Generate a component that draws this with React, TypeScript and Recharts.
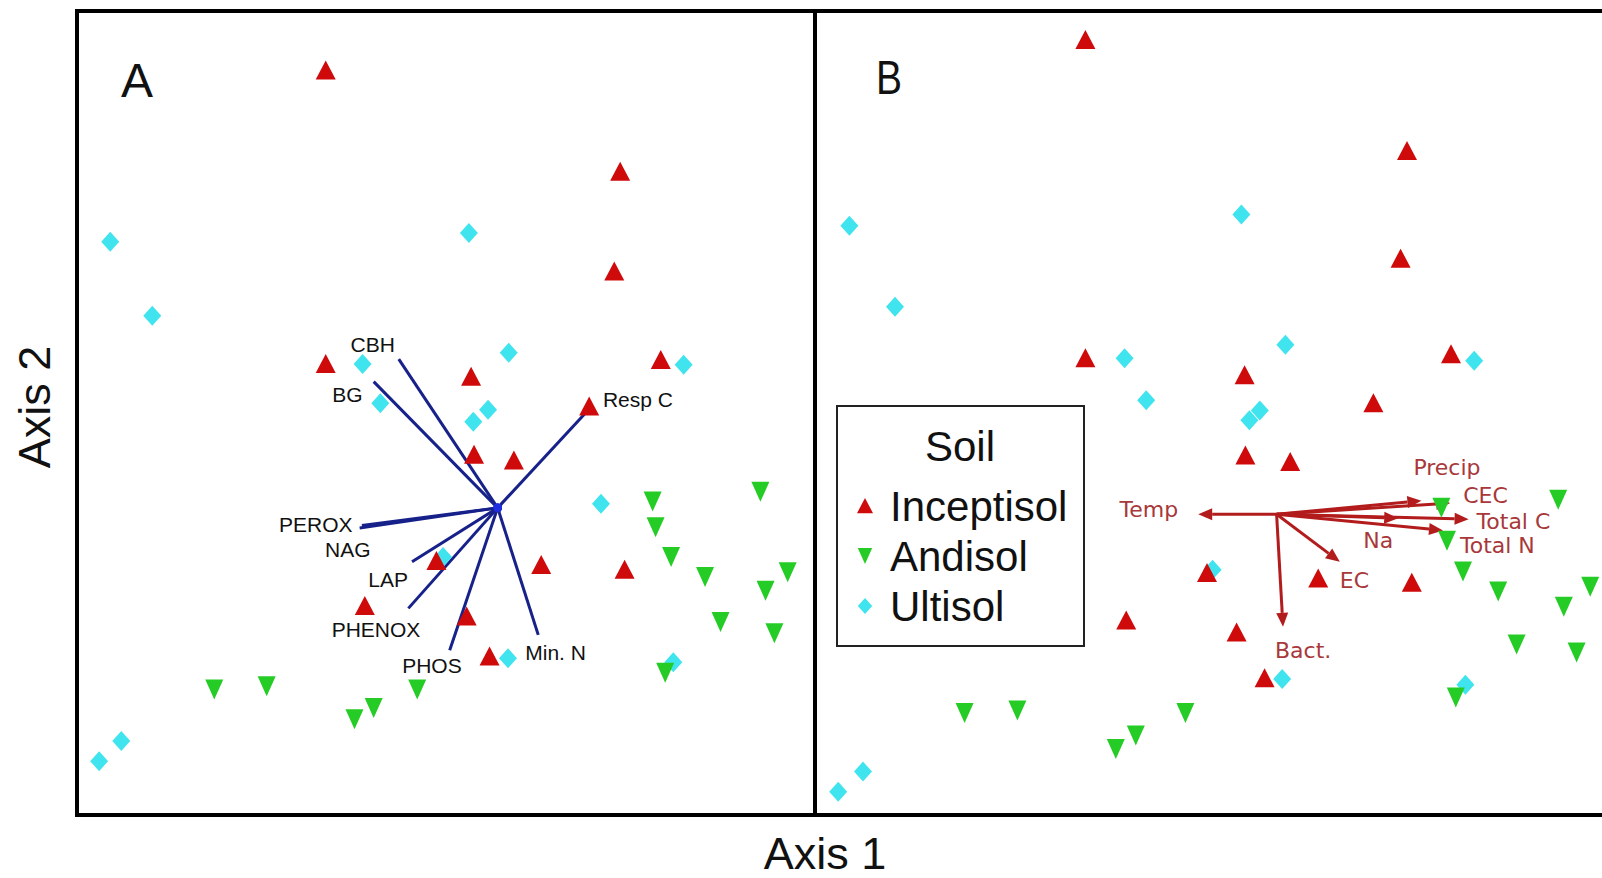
import React from 'react'
import { ScatterChart, Scatter, XAxis, YAxis, ReferenceLine } from 'recharts'

type Pt = [number, number]
type Place = [number, number, 'start' | 'middle' | 'end']

// ---- Panel A: enzyme activities (axis scores rescaled 0-100) ----
const inceptisolA: Pt[] = [
  [33.7, 92.6], [73.6, 80.0], [72.8, 67.6], [33.7, 56.1], [53.4, 54.5],
  [79.1, 56.6], [69.4, 50.8], [53.8, 44.8], [59.2, 44.1], [48.7, 31.6],
  [62.9, 31.1], [74.2, 30.5], [39.0, 26.0], [52.8, 24.7], [55.9, 19.7],
]
const andisolA: Pt[] = [
  [78.0, 39.0], [92.6, 40.2], [78.4, 35.8], [80.5, 32.1], [85.1, 29.6],
  [96.3, 30.2], [93.3, 27.9], [87.2, 24.0], [94.5, 22.6], [79.7, 17.7],
  [18.6, 15.6], [25.7, 16.0], [46.1, 15.6], [40.2, 13.3], [37.6, 11.9],
]
const ultisolA: Pt[] = [
  [4.5, 71.3], [10.2, 62.1], [53.1, 72.4], [38.7, 56.1], [58.5, 57.5],
  [82.2, 56.0], [41.1, 51.2], [53.7, 48.9], [55.7, 50.4], [71.0, 38.7],
  [49.6, 32.1], [58.4, 19.5], [80.8, 19.0], [6.0, 9.2], [3.0, 6.7],
]

const enzymeOrigin: Pt = [57.0, 38.2]
const enzymeNames = ['CBH', 'BG', 'Resp C', 'PEROX', 'NAG', 'LAP', 'PHENOX', 'PHOS', 'Min. N']
const enzymeTips: Pt[] = [
  [43.6, 56.7], [40.2, 53.9], [69.5, 50.6], [38.3, 35.7], [38.6, 36.0],
  [45.4, 31.5], [44.9, 25.7], [50.5, 20.5], [62.5, 22.4],
]

// ---- Panel B: environmental variables ----
const inceptisolB: Pt[] = [
  [33.8, 96.4], [74.0, 82.6], [73.2, 69.2], [33.8, 56.8], [53.7, 54.7],
  [79.5, 57.3], [69.8, 51.2], [53.8, 44.7], [59.4, 43.9], [49.0, 30.1],
  [62.9, 29.4], [74.6, 28.9], [38.9, 24.2], [52.7, 22.7], [56.2, 17.0],
]
const andisolB: Pt[] = [
  [78.3, 38.2], [92.9, 39.2], [79.0, 34.1], [81.0, 30.3], [85.4, 27.8],
  [96.9, 28.4], [93.6, 25.9], [87.7, 21.2], [95.2, 20.2], [80.1, 14.6],
  [18.7, 12.7], [25.3, 13.0], [46.3, 12.7], [40.1, 9.9], [37.6, 8.2],
]
const ultisolB: Pt[] = [
  [4.3, 73.3], [10.0, 63.2], [53.3, 74.7], [38.7, 56.8], [58.8, 58.5],
  [82.4, 56.5], [41.4, 51.6], [54.3, 49.1], [55.6, 50.3], [49.7, 30.5],
  [58.4, 16.9], [81.3, 16.2], [6.0, 5.4], [2.9, 2.9],
]

const envOrigin: Pt = [57.7, 37.4]
const envNames = ['Temp', 'Precip', 'CEC', 'Total C', 'Total N', 'Na', 'EC', 'Bact.']
const envTips: Pt[] = [
  [47.9, 37.4], [75.8, 39.1], [79.4, 38.8], [81.7, 36.8], [78.5, 35.4],
  [72.9, 36.9], [65.6, 31.5], [58.5, 23.4],
]

const soilNames = ['Inceptisol', 'Andisol', 'Ultisol']

// label offsets (px) from each vector tip
const enzymeLabelPos: Record<string, Place> = {
  CBH: [-26, -7, 'middle'],
  BG: [-11, 20, 'end'],
  'Resp C': [13, -1, 'start'],
  PEROX: [-7, 4, 'end'],
  NAG: [-14, 31, 'middle'],
  LAP: [-4, 25, 'end'],
  PHENOX: [12, 29, 'end'],
  PHOS: [12, 23, 'end'],
  'Min. N': [-13, 25, 'start'],
}
const envLabelPos: Record<string, Place> = {
  Temp: [-20, 3, 'end'],
  Precip: [-8, -26, 'start'],
  CEC: [13, 0, 'start'],
  'Total C': [8, 10, 'start'],
  'Total N': [17, 23, 'start'],
  Na: [-5, 30, 'end'],
  EC: [0, 26, 'start'],
  'Bact.': [-8, 31, 'start'],
}

const RED = '#cf0a0a'
const GREEN = '#26cc26'
const CYAN = '#40e4ee'
const NAVY = '#17218a'
const ARROW = '#b31c1c'
const FONT = '"Liberation Sans", Arial, sans-serif'
const WIDE = '"DejaVu Sans", Verdana, sans-serif'

const toXY = (pts: Pt[]) => pts.map(([x, y]) => ({ x, y }))

function marker(kind: string, cx: number, cy: number, s = 1) {
  if (kind === 'up') {
    return <polygon points={`${cx},${cy - 10 * s} ${cx + 10 * s},${cy + 9 * s} ${cx - 10 * s},${cy + 9 * s}`} fill={RED} />
  }
  if (kind === 'down') {
    return <polygon points={`${cx - 9 * s},${cy - 10 * s} ${cx + 9 * s},${cy - 10 * s} ${cx},${cy + 10 * s}`} fill={GREEN} />
  }
  return <polygon points={`${cx},${cy - 10 * s} ${cx + 9 * s},${cy} ${cx},${cy + 10 * s} ${cx - 9 * s},${cy}`} fill={CYAN} />
}
const soilKinds = ['up', 'down', 'diamond']

function EnzymeVector(props: any) {
  const { x1, y1, x2, y2, vec } = props
  const [dx, dy, anchor] = enzymeLabelPos[vec]
  return (
    <g>
      <line x1={x1} y1={y1} x2={x2} y2={y2} stroke={NAVY} strokeWidth={3} />
      <circle cx={x1} cy={y1} r={4} fill="#1f2fe0" />
      <text x={x2 + dx} y={y2 + dy} textAnchor={anchor} fontSize={21} fontFamily={FONT} fill="#111">{vec}</text>
    </g>
  )
}

function EnvArrow(props: any) {
  const { x1, y1, x2, y2, vec } = props
  const ang = Math.atan2(y2 - y1, x2 - x1)
  const L = 14
  const W = 6
  const bx = x2 - L * Math.cos(ang)
  const by = y2 - L * Math.sin(ang)
  const px = -Math.sin(ang) * W
  const py = Math.cos(ang) * W
  const [dx, dy, anchor] = envLabelPos[vec]
  return (
    <g>
      <line x1={x1} y1={y1} x2={bx} y2={by} stroke={ARROW} strokeWidth={3} />
      <polygon points={`${x2},${y2} ${bx + px},${by + py} ${bx - px},${by - py}`} fill={ARROW} />
      <text x={x2 + dx} y={y2 + dy} textAnchor={anchor} fontSize={22} fontFamily={WIDE} fill="#a8383a">{vec}</text>
    </g>
  )
}

function Panel(props: {
  left: number; width: number
  inc: Pt[]; and: Pt[]; ult: Pt[]
  origin: Pt; tips: Pt[]; names: string[]; arrows: boolean
}) {
  const { left, width, inc, and, ult, origin, tips, names, arrows } = props
  return (
    <div style={{ position: 'absolute', left, top: 11 }}>
      <ScatterChart width={width} height={804} margin={{ top: 0, right: 0, bottom: 0, left: 0 }}>
        <XAxis type="number" dataKey="x" domain={[0, 100]} hide />
        <YAxis type="number" dataKey="y" domain={[0, 100]} hide />
        <Scatter name="Ultisol" data={toXY(ult)} isAnimationActive={false} shape={(p: any) => marker('diamond', p.cx, p.cy)} />
        <Scatter name="Andisol" data={toXY(and)} isAnimationActive={false} shape={(p: any) => marker('down', p.cx, p.cy)} />
        <Scatter name="Inceptisol" data={toXY(inc)} isAnimationActive={false} shape={(p: any) => marker('up', p.cx, p.cy)} />
        {tips.map((t, i) => (
          <ReferenceLine
            key={names[i]}
            segment={[{ x: origin[0], y: origin[1] }, { x: t[0], y: t[1] }]}
            shape={(p: any) => (arrows ? <EnvArrow {...p} vec={names[i]} /> : <EnzymeVector {...p} vec={names[i]} />)}
          />
        ))}
      </ScatterChart>
    </div>
  )
}

export default function App() {
  return (
    <div style={{ position: 'absolute', left: 0, top: 0, width: 1602, height: 878, overflow: 'hidden', background: '#fff', fontFamily: FONT }}>
      {/* panel frames */}
      <div style={{ position: 'absolute', left: 75, top: 9, width: 742, height: 808, border: '4px solid #000', boxSizing: 'border-box' }} />
      <div style={{ position: 'absolute', left: 813, top: 9, width: 900, height: 808, borderTop: '4px solid #000', borderBottom: '4px solid #000', borderLeft: '4px solid #000', boxSizing: 'border-box' }} />

      <Panel left={77} width={738} inc={inceptisolA} and={andisolA} ult={ultisolA}
        origin={enzymeOrigin} tips={enzymeTips} names={enzymeNames} arrows={false} />
      <Panel left={815} width={800} inc={inceptisolB} and={andisolB} ult={ultisolB}
        origin={envOrigin} tips={envTips} names={envNames} arrows={true} />

      {/* titles */}
      <svg width={1602} height={878} style={{ position: 'absolute', left: 0, top: 0, pointerEvents: 'none' }}>
        <text x={121} y={97} fontSize={48} fontFamily={FONT} fill="#111">A</text>
        <text x={876} y={94} fontSize={48} fontFamily={FONT} fill="#111" textLength={26} lengthAdjust="spacingAndGlyphs">B</text>
        <text x={825} y={869} fontSize={45} fontFamily={FONT} fill="#111" textAnchor="middle">Axis 1</text>
        <text transform="translate(50,407) rotate(-90)" fontSize={45} fontFamily={FONT} fill="#111" textAnchor="middle">Axis 2</text>
      </svg>

      {/* legend */}
      <svg width={249} height={242} style={{ position: 'absolute', left: 836, top: 405 }}>
        <rect x={1} y={1} width={247} height={240} fill="#fff" stroke="#222" strokeWidth={2} />
        <text x={124} y={56} fontSize={42} fontFamily={FONT} fill="#111" textAnchor="middle">Soil</text>
        {soilNames.map((name, i) => (
          <g key={name}>
            {marker(soilKinds[i], 29, 101 + i * 50, 0.8)}
            <text x={54} y={116 + i * 50} fontSize={42} fontFamily={FONT} fill="#111">{name}</text>
          </g>
        ))}
      </svg>
    </div>
  )
}
